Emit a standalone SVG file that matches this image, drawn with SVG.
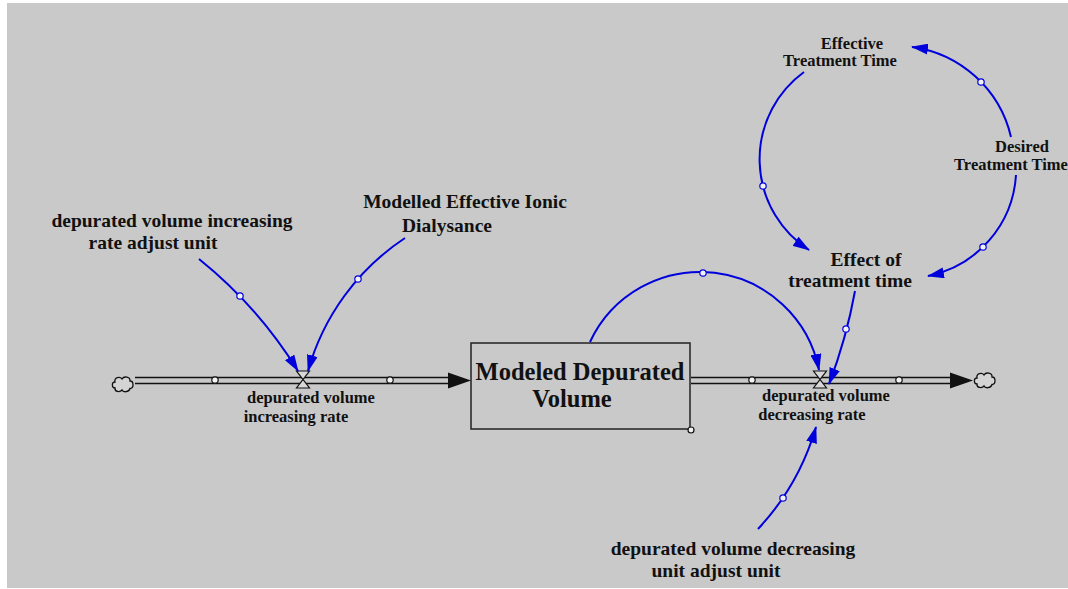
<svg xmlns="http://www.w3.org/2000/svg" width="1068" height="589" viewBox="0 0 1068 589">
  <style>
    .lbl { font-family: "Liberation Serif", "Times New Roman", serif; font-weight: bold; fill: #111; text-anchor: middle; }
    .big { font-size: 19.5px; }
    .small { font-size: 16.5px; }
    .stocktxt { font-size: 24.5px; }
    .link { fill: none; stroke: #0000dd; stroke-width: 2; marker-end: url(#head); }
    .handle { fill: #f2f2f2; stroke: #0000dd; stroke-width: 1.2; }
    .phandle { fill: #f2f2f2; stroke: #111; stroke-width: 1.2; }
    .pipe { stroke: #111; stroke-width: 1.5; }
    .valve { fill: #d8d8d8; stroke: #111; stroke-width: 1.2; }
    .cloud { fill: #d4d4d4; stroke: #111; stroke-width: 1.3; }
  </style>
  <defs>
    <marker id="head" viewBox="0 0 17 11" refX="16" refY="5.5" markerWidth="17" markerHeight="11" orient="auto" markerUnits="userSpaceOnUse">
      <path d="M0,0 L17,5.5 L0,11 Z" fill="#0000dd"/>
    </marker>
    <path id="cloudShape" class="cloud" d="M-8,4 C-11.5,4 -11.5,-2 -8,-2 C-9,-6.5 -3,-8 -1,-5 C1,-8.5 7.5,-7 7,-3 C11,-3 11,4.5 7,4.5 C6,8.5 0,8.5 -1,6 C-3,8.5 -8.5,8 -8,4 Z"/>
    <path id="valveShape" class="valve" d="M-6.5,-8.5 H6.5 L-6.5,8.5 H6.5 Z"/>
  </defs>

  <!-- canvas -->
  <rect x="0" y="0" width="1068" height="589" fill="#ffffff"/>
  <rect x="7" y="3" width="1061" height="585" fill="#c9c9c9"/>

  <!-- sources and sinks -->
  <g id="cloud-source">
    <use href="#cloudShape" x="123" y="384"/>
  </g>
  <g id="cloud-sink">
    <use href="#cloudShape" x="985" y="380"/>
  </g>

  <!-- stock -->
  <g id="stock-modeled-depurated-volume">
    <rect x="471" y="343" width="219" height="86" fill="none" stroke="#222" stroke-width="1.5"/>
    <circle class="phandle" cx="691" cy="430" r="3"/>
    <text class="lbl stocktxt" x="580" y="380">Modeled Depurated</text>
    <text class="lbl stocktxt" x="572" y="407">Volume</text>
  </g>

  <!-- inflow -->
  <g id="flow-increasing-rate">
    <line class="pipe" x1="135" y1="377.5" x2="450" y2="377.5"/>
    <line class="pipe" x1="135" y1="383.5" x2="450" y2="383.5"/>
    <path d="M448,372.5 L471,380.5 L448,388.5 Z" fill="#111"/>
    <circle class="phandle" cx="215" cy="380" r="3.2"/>
    <circle class="phandle" cx="390" cy="380" r="3.2"/>
    <use href="#valveShape" x="303" y="379.5"/>
    <text class="lbl small" x="311" y="403">depurated volume</text>
    <text class="lbl small" x="296" y="422">increasing rate</text>
  </g>

  <!-- outflow -->
  <g id="flow-decreasing-rate">
    <line class="pipe" x1="691" y1="377.5" x2="952" y2="377.5"/>
    <line class="pipe" x1="691" y1="383.5" x2="952" y2="383.5"/>
    <path d="M950,372.5 L973,380.5 L950,388.5 Z" fill="#111"/>
    <circle class="phandle" cx="752" cy="380" r="3.2"/>
    <circle class="phandle" cx="899" cy="380" r="3.2"/>
    <use href="#valveShape" x="820" y="379.5"/>
    <text class="lbl small" x="826" y="401">depurated volume</text>
    <text class="lbl small" x="812" y="420">decreasing rate</text>
  </g>

  <!-- auxiliaries -->
  <g id="aux-increasing-adjust-unit">
    <text class="lbl big" x="172" y="227">depurated volume increasing</text>
    <text class="lbl big" x="153" y="249">rate adjust unit</text>
  </g>
  <g id="aux-ionic-dialysance">
    <text class="lbl big" x="465" y="208">Modelled Effective Ionic</text>
    <text class="lbl big" x="447" y="232">Dialysance</text>
  </g>
  <g id="aux-effective-treatment-time">
    <text class="lbl small" x="852" y="49">Effective</text>
    <text class="lbl small" x="840" y="66">Treatment Time</text>
  </g>
  <g id="aux-desired-treatment-time">
    <text class="lbl small" x="1022" y="152">Desired</text>
    <text class="lbl small" x="1011" y="170">Treatment Time</text>
  </g>
  <g id="aux-effect-of-treatment-time">
    <text class="lbl big" x="866" y="266">Effect of</text>
    <text class="lbl big" x="850" y="287">treatment time</text>
  </g>
  <g id="aux-decreasing-adjust-unit">
    <text class="lbl big" x="733" y="555">depurated volume decreasing</text>
    <text class="lbl big" x="716" y="577">unit adjust unit</text>
  </g>

  <!-- causal links -->
  <g id="connectors">
    <path class="link" d="M199,259 A441.5,441.5 0 0 1 298,371"/>
    <circle class="handle" cx="240" cy="296" r="3.2"/>

    <path class="link" d="M405,238 A235.6,235.6 0 0 0 308,371"/>
    <circle class="handle" cx="358" cy="279" r="3.2"/>

    <path class="link" d="M590,342 A121.3,121.3 0 0 1 819,370"/>
    <circle class="handle" cx="703" cy="273" r="3.2"/>

    <path class="link" d="M855,291 A516,516 0 0 1 829,384"/>
    <circle class="handle" cx="846" cy="329" r="3.2"/>

    <path class="link" d="M758,529 A252.3,252.3 0 0 0 816,427"/>
    <circle class="handle" cx="783" cy="498" r="3.2"/>

    <path class="link" d="M804,72 A108,108 0 0 0 809,250"/>
    <circle class="handle" cx="763" cy="186" r="3.2"/>

    <path class="link" d="M1016,175 A110,110 0 0 1 928,276"/>
    <circle class="handle" cx="983" cy="247" r="3.2"/>

    <path class="link" d="M1011,137 A118,118 0 0 0 912,47"/>
    <circle class="handle" cx="981" cy="82" r="3.2"/>
  </g>
</svg>
